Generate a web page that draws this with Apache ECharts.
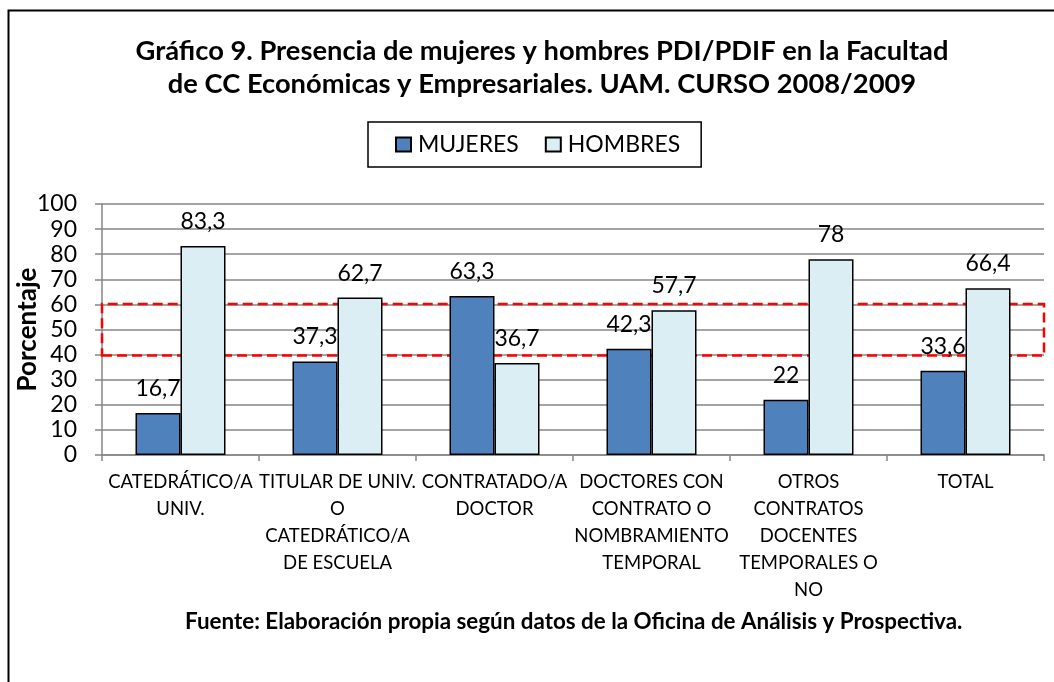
<!DOCTYPE html>
<html>
<head>
<meta charset="utf-8">
<script src="https://cdn.jsdelivr.net/npm/echarts@6/dist/echarts.min.js"></script>
<style>
  html, body { margin: 0; padding: 0; background: #fff; }
  #chart { width: 1054px; height: 682px; }
</style>
</head>
<body>
<div id="chart"></div>
<script>
// categorías (eje X)
var categories = [
  "CATEDRÁTICO/A\nUNIV.",
  "TITULAR DE UNIV.\nO\nCATEDRÁTICO/A\nDE ESCUELA",
  "CONTRATADO/A\nDOCTOR",
  "DOCTORES CON\nCONTRATO O\nNOMBRAMIENTO\nTEMPORAL",
  "OTROS\nCONTRATOS\nDOCENTES\nTEMPORALES O\nNO",
  "TOTAL"
];
var mujeres = [16.7, 37.3, 63.3, 42.3, 22, 33.6];
var hombres = [83.3, 62.7, 36.7, 57.7, 78, 66.4];
// zona marcada en rojo (40-60 aprox.)
var zonaRoja = [39.6, 60.2];

var font = "Lato, 'Open Sans', sans-serif";
var chart = echarts.init(document.getElementById("chart"));

function etiqueta(p) {
  return String(p.value).replace(".", ",");
}

chart.setOption({
  animation: false,
  textStyle: { fontFamily: font },
  title: {
    text: "Gráfico 9. Presencia de mujeres y hombres PDI/PDIF en la Facultad\nde CC Económicas y Empresariales. UAM. CURSO 2008/2009",
    left: 537,
    textAlign: "center",
    top: 30,
    textStyle: {
      fontFamily: font,
      fontSize: 27.3,
      fontWeight: "bold",
      color: "#000",
      lineHeight: 33
    }
  },
  legend: {
    top: 122,
    left: 368,
    data: ["MUJERES", "HOMBRES"],
    icon: "rect",
    itemWidth: 15,
    itemHeight: 14,
    itemGap: 26,
    borderColor: "#000",
    borderWidth: 1.5,
    padding: [11, 21, 11, 27],
    textStyle: { fontSize: 23, color: "#000", fontFamily: font, padding: [0, 0, 0, 2] }
  },
  grid: {
    left: 102,
    right: 10,
    top: 204,
    bottom: 227,
    outerBoundsMode: "none"
  },
  xAxis: {
    type: "category",
    data: categories,
    axisLine: { lineStyle: { color: "#868686", width: 1.5 } },
    axisTick: { show: true, length: 6, lineStyle: { color: "#868686", width: 1.5 } },
    axisLabel: {
      interval: 0,
      margin: 14,
      fontSize: 18.5,
      lineHeight: 27,
      color: "#000",
      fontFamily: font
    }
  },
  yAxis: {
    type: "value",
    min: 0,
    max: 100,
    interval: 10,
    name: "Porcentaje",
    nameLocation: "middle",
    nameGap: 61,
    nameMoveOverlap: false,
    nameTextStyle: { fontSize: 26, fontWeight: "bold", color: "#000", fontFamily: font },
    axisLine: { show: true, lineStyle: { color: "#868686", width: 1.5 } },
    axisTick: { show: true, length: 7, lineStyle: { color: "#868686", width: 1.5 } },
    splitLine: { lineStyle: { color: "#868686", width: 1.5 } },
    axisLabel: { fontSize: 23, color: "#000", margin: 25, fontFamily: font }
  },
  series: [
    {
      name: "MUJERES",
      type: "bar",
      data: mujeres,
      barWidth: 45,
      barGap: "0%",
      itemStyle: { color: "#4F81BD", borderColor: "#000", borderWidth: 1.5 },
      label: {
        show: true,
        position: "top",
        distance: 13,
        fontSize: 23,
        color: "#000",
        fontFamily: font,
        formatter: etiqueta
      },
      markArea: {
        silent: true,
        itemStyle: {
          color: "rgba(0,0,0,0)",
          borderColor: "#FF0000",
          borderWidth: 2.5,
          borderType: [10, 5]
        },
        data: [[{ yAxis: zonaRoja[0] }, { yAxis: zonaRoja[1] }]]
      }
    },
    {
      name: "HOMBRES",
      type: "bar",
      data: hombres,
      barWidth: 45,
      barGap: "0%",
      itemStyle: { color: "#DBEEF4", borderColor: "#000", borderWidth: 1.5 },
      label: {
        show: true,
        position: "top",
        distance: 13,
        fontSize: 23,
        color: "#000",
        fontFamily: font,
        formatter: etiqueta
      }
    }
  ],
  graphic: [
    {
      type: "rect",
      left: 6,
      top: 8,
      shape: { width: 1100, height: 700 },
      style: { fill: "none", stroke: "#000", lineWidth: 2 },
      silent: true
    },
    {
      type: "text",
      left: 185,
      top: 611,
      style: {
        text: "Fuente: Elaboración propia según datos de la Oficina de Análisis y Prospectiva.",
        font: "bold 22.4px " + font,
        fill: "#000"
      }
    }
  ]
});
</script>
</body>
</html>
